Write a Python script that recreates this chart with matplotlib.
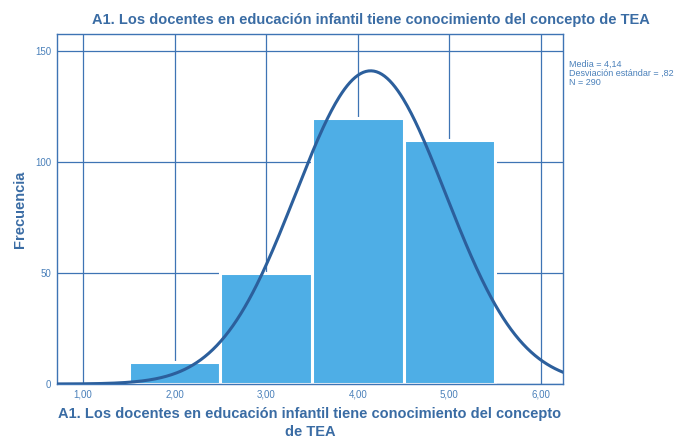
import numpy as np
import matplotlib
matplotlib.use("Agg")
import matplotlib.pyplot as plt

plt.rcParams['font.family'] = ['Liberation Sans', 'DejaVu Sans']

# histogram data
bin_centers = [2.0, 3.0, 4.0, 5.0]
counts = [10, 50, 120, 110]
bin_width = 1.0
media = 4.14
desv = 0.82
n_total = 290

x_ticks = [1, 2, 3, 4, 5, 6]
x_tick_labels = ["1,00", "2,00", "3,00", "4,00", "5,00", "6,00"]
y_ticks = [0, 50, 100, 150]

titulo = "A1. Los docentes en educación infantil tiene conocimiento del concepto de TEA"
xlab = "A1. Los docentes en educación infantil tiene conocimiento del concepto\nde TEA"

bar_color = "#4eaee6"
line_color = "#2c5f9c"
grid_color = "#3e74b4"
text_color = "#4a80ba"
title_color = "#3a6ca4"

fig = plt.figure(figsize=(6.81, 4.42), dpi=100)
ax = fig.add_axes([0.0837, 0.1312, 0.743, 0.792])

ax.bar(bin_centers, counts, width=bin_width, color=bar_color,
       edgecolor="white", linewidth=2.2, zorder=2)

# normal curve from the reported stats
xs = np.linspace(0.6, 6.4, 400)
pdf = np.exp(-0.5 * ((xs - media) / desv) ** 2) / (desv * np.sqrt(2 * np.pi))
ax.plot(xs, pdf * n_total * bin_width, color=line_color, linewidth=2.2, zorder=3)

ax.set_xlim(0.716, 6.24)
ax.set_ylim(0, 157.7)
ax.set_xticks(x_ticks)
ax.set_xticklabels(x_tick_labels)
ax.set_yticks(y_ticks)
ax.grid(True, color=grid_color, linewidth=0.9, zorder=1)
ax.set_axisbelow(True)
for s in ax.spines.values():
    s.set_color(grid_color)
    s.set_linewidth(1.0)
ax.tick_params(colors=grid_color, labelcolor=text_color, labelsize=7, length=0, pad=4)

ax.set_xlabel(xlab, fontsize=10.5, fontweight="bold", color=title_color,
              labelpad=5, linespacing=1.4)
ax.set_ylabel("Frecuencia", fontsize=10.5, fontweight="bold", color=title_color, labelpad=6)
fig.text(0.545, 0.955, titulo, ha="center", va="center", fontsize=10.5,
         fontweight="bold", color=title_color)

fig.text(0.836, 0.865, "Media = 4,14\nDesviación estándar = ,82\nN = 290",
         ha="left", va="top", fontsize=6.5, color=text_color, linespacing=1.0)

fig.savefig("out.png", dpi=100)
